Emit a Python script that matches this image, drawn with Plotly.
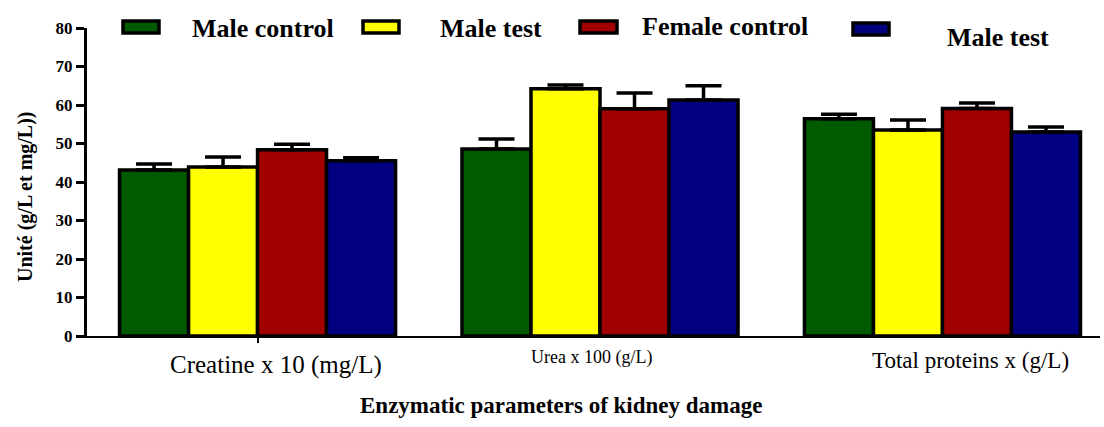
import plotly.graph_objects as go

categories = ["Creatine x 10 (mg/L)", "Urea x 100 (g/L)", "Total proteins x (g/L)"]
series_names = ["Male control", "Male test", "Female control", "Male test"]
series_colors = ["#005a00", "#ffff00", "#a00000", "#000080"]

male_control = [43.1, 48.6, 56.4]
male_test = [43.9, 64.2, 53.5]
female_control = [48.4, 59.0, 59.1]
female_test = [45.5, 61.3, 53.0]

male_control_err = [1.6, 2.6, 1.2]
male_test_err = [2.6, 1.0, 2.6]
female_control_err = [1.4, 4.1, 1.4]
female_test_err = [0.8, 3.7, 1.3]

y_ticks = [0, 10, 20, 30, 40, 50, 60, 70, 80]
y_title = "Unité (g/L et mg/L))"
x_title = "Enzymatic parameters of kidney damage"

values = [male_control, male_test, female_control, female_test]
errors = [male_control_err, male_test_err, female_control_err, female_test_err]

SERIF = "Liberation Serif"
W, H = 1104, 427
L, R, T, B = 87, 4, 28, 91
PW, PH = W - L - R, H - T - B

fig = go.Figure()
xs = list(range(len(categories)))
for name, col, vals, errs in zip(series_names, series_colors, values, errors):
    fig.add_trace(go.Bar(
        x=xs, y=vals, name=name,
        marker=dict(color=col, line=dict(color="black", width=3.5)),
        error_y=dict(type="data", symmetric=False, array=errs,
                     arrayminus=[0] * len(errs), color="black",
                     thickness=3.5, width=18),
        showlegend=False,
    ))

def px_x(p):
    return (p - L) / PW

def px_y(p):
    return (T + PH - p) / PH

shapes = []
annotations = []
# legend (manual to reproduce wide rectangular swatches)
legend_sw = [(123, 159, 21, 33), (363, 399, 21, 33), (580, 617, 21, 33), (853, 889, 23, 35)]
legend_tx = [(190, 28), (438, 28), (640, 27), (945, 38)]
for (x0, x1, y0, y1), (tx, ty), name, col in zip(legend_sw, legend_tx, series_names, series_colors):
    shapes.append(dict(type="rect", xref="paper", yref="paper",
                       x0=px_x(x0), x1=px_x(x1), y0=px_y(y1), y1=px_y(y0),
                       fillcolor=col, line=dict(color="black", width=3.5)))
    annotations.append(dict(xref="paper", yref="paper", x=px_x(tx), y=px_y(ty),
                            xanchor="left", yanchor="middle", showarrow=False,
                            text="<b>%s</b>" % name,
                            font=dict(family=SERIF, size=26, color="black")))

# category labels (placed as in the reference)
cat_pos = [(276, 365, 25), (591, 357, 18), (970, 360, 23)]
for cat, (cx, cy, fs) in zip(categories, cat_pos):
    annotations.append(dict(xref="paper", yref="paper", x=px_x(cx), y=px_y(cy),
                            xanchor="center", yanchor="middle", showarrow=False,
                            text=cat, font=dict(family=SERIF, size=fs, color="black")))

annotations.append(dict(xref="paper", yref="paper", x=px_x(561), y=px_y(405),
                        xanchor="center", yanchor="middle", showarrow=False,
                        text="<b>%s</b>" % x_title,
                        font=dict(family=SERIF, size=23, color="black")))
annotations.append(dict(xref="paper", yref="paper", x=px_x(25), y=px_y(197),
                        xanchor="center", yanchor="middle", showarrow=False,
                        textangle=-90, text="<b>%s</b>" % y_title,
                        font=dict(family=SERIF, size=20, color="black")))

fig.update_layout(
    width=W, height=H,
    margin=dict(l=L, r=R, t=T, b=B),
    paper_bgcolor="white", plot_bgcolor="white",
    barmode="group", bargap=0.194, bargroupgap=0.0,
    shapes=shapes, annotations=annotations,
    xaxis=dict(range=[-0.498, 2.46], showgrid=False, zeroline=False,
               showline=True, linecolor="black", linewidth=2,
               tickvals=[0], ticks="outside", ticklen=5, tickwidth=2,
               tickcolor="black", showticklabels=False),
    yaxis=dict(range=[0, 80], tickvals=y_ticks, showgrid=False, zeroline=False,
               showline=True, linecolor="black", linewidth=3,
               ticks="outside", ticklen=8, tickwidth=2.5, tickcolor="black",
               tickfont=dict(family=SERIF, size=17, color="black", weight="bold")),
)

fig.write_html("out.html", config={"displayModeBar": False},
               post_script="document.body.style.margin='0';")
